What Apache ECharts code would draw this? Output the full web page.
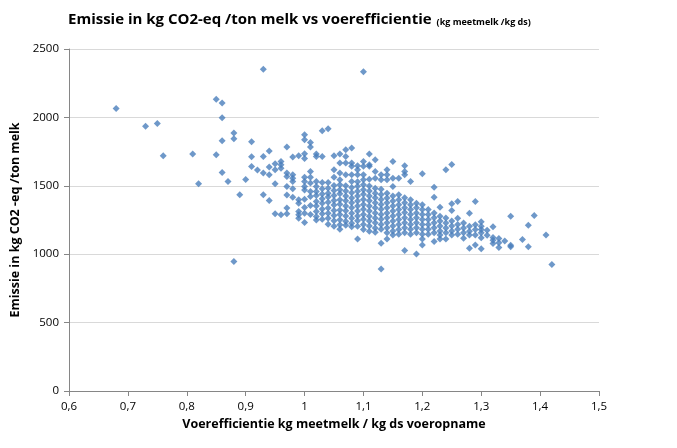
<!DOCTYPE html>
<html><head><meta charset="utf-8">
<script src="https://cdn.jsdelivr.net/npm/echarts@6/dist/echarts.min.js"></script>
<style>html,body{margin:0;padding:0;background:#fff}#c{width:677px;height:448px}</style>
</head><body><div id="c"></div>
<script>
// Voerefficientie (x) per column and the emission values (y) in that column
const kolomX = [0.68,0.73,0.75,0.76,0.81,0.82,0.85,0.86,0.87,0.88,0.89,0.90,0.91,0.92,0.93,0.94,0.95,0.96,0.97,0.98,0.99,
  1.00,1.01,1.02,1.03,1.04,1.05,1.06,1.07,1.08,1.09,1.10,1.11,1.12,1.13,1.14,1.15,1.16,1.17,1.18,1.19,
  1.20,1.21,1.22,1.23,1.24,1.25,1.26,1.27,1.28,1.29,1.30,1.31,1.32,1.33,1.34,1.35,1.37,1.38,1.39,1.41,1.42];
const kolomY = [
  [2065],[1935],[1955],[1720],[1732],[1515],[2132,1727],[2105,1998,1830,1598],[1532],[1886,1844,946],[1434],[1546],
  [1822,1712,1641],[1615],[2352,1715,1593,1434],[1754,1637,1580,1393],[1661,1617,1515,1295],[1678,1654,1629,1288],
  [1783,1593,1568,1495,1432,1337,1295],[1710,1580,1556,1532,1478,1417],[1720,1398,1373,1312,1288,1263],
  [1873,1837,1734,1700,1563,1532,1495,1470,1402,1341,1300,1232],
  [1817,1783,1605,1563,1520,1458,1422,1356,1290],
  [1732,1715,1532,1495,1458,1430,1385,1352,1312,1276,1250],
  [1903,1715,1524,1478,1440,1405,1372,1330,1295,1256],
  [1917,1524,1483,1446,1418,1380,1337,1300,1263,1219],
  [1720,1617,1563,1502,1466,1430,1392,1360,1320,1282,1244,1205],
  [1732,1666,1593,1544,1507,1471,1441,1398,1366,1324,1290,1252,1215,1183],
  [1764,1715,1666,1580,1500,1462,1425,1390,1352,1318,1280,1240,1212],
  [1776,1666,1642,1580,1532,1488,1450,1410,1376,1340,1300,1263,1227,1200],
  [1646,1617,1580,1530,1496,1460,1426,1388,1352,1315,1280,1244,1205,1112],
  [2334,1678,1642,1580,1544,1507,1471,1438,1400,1364,1328,1290,1255,1218,1180],
  [1732,1654,1642,1548,1498,1462,1425,1390,1352,1316,1278,1243,1207,1168],
  [1690,1605,1556,1483,1446,1412,1376,1340,1302,1265,1230,1192,1160],
  [1580,1544,1474,1436,1400,1364,1328,1290,1255,1218,1182,1080,892],
  [1617,1580,1544,1446,1410,1376,1340,1302,1266,1230,1193,1156,1112],
  [1678,1556,1495,1426,1388,1352,1316,1280,1243,1206,1170,1140],
  [1556,1434,1398,1362,1326,1290,1254,1218,1180,1146],
  [1646,1605,1580,1412,1376,1340,1304,1266,1230,1194,1157,1027],
  [1532,1398,1362,1326,1290,1254,1218,1182,1146],
  [1373,1340,1302,1266,1230,1194,1157,1002],
  [1588,1362,1326,1290,1254,1218,1182,1146,1112,1068],
  [1326,1290,1254,1218,1182,1146],
  [1490,1417,1302,1266,1230,1193,1156,1093],
  [1344,1278,1242,1206,1170,1140,1112],
  [1617,1265,1228,1192,1156,1112],
  [1656,1368,1319,1242,1206,1170,1140],
  [1385,1263,1218,1182,1146],
  [1228,1192,1156,1117],
  [1300,1205,1168,1140,1044],
  [1385,1215,1180,1140,1068],
  [1237,1205,1180,1156,1120,1039],
  [1175,1139],
  [1200,1122,1102,1078],
  [1115,1083,1049],
  [1097],
  [1278,1066,1054],
  [1107],
  [1212,1054],
  [1283],
  [1141],
  [924]
];
const xTicks = [0.6,0.7,0.8,0.9,1.0,1.1,1.2,1.3,1.4,1.5];
const yTicks = [0,500,1000,1500,2000,2500];

const punten = [];
kolomX.forEach((x,i)=>kolomY[i].forEach(y=>punten.push([x,y])));

const chart = echarts.init(document.getElementById('c'));
const font = 'Open Sans';
chart.setOption({
  animation:false,
  title:{
    text:'{a|Emissie in kg CO2-eq /ton melk vs voerefficientie} {b|(kg meetmelk /kg ds)}',
    left:63, top:6,
    textStyle:{rich:{
      a:{fontFamily:font,fontWeight:'bold',fontSize:15,color:'#000'},
      b:{fontFamily:font,fontWeight:'bold',fontSize:9,color:'#000',padding:[4,0,0,0]}
    }}
  },
  grid:{left:69,right:78,top:49,bottom:57},
  xAxis:{
    type:'value',min:xTicks[0],max:xTicks[xTicks.length-1],interval:0.1,
    name:'Voerefficientie kg meetmelk / kg ds voeropname',nameLocation:'middle',nameGap:26,
    nameTextStyle:{fontFamily:font,fontWeight:'bold',fontSize:12.5,color:'#000'},
    axisLine:{show:true,lineStyle:{color:'#868686'}},
    axisTick:{show:true,length:5,lineStyle:{color:'#868686'}},
    splitLine:{show:false},
    axisLabel:{fontFamily:font,fontSize:11.5,color:'#000',margin:10,
      formatter:v=>String(+v.toFixed(1)).replace('.',',')}
  },
  yAxis:{
    type:'value',min:yTicks[0],max:yTicks[yTicks.length-1],interval:500,
    name:'Emissie in kg CO2 -eq /ton melk',nameLocation:'middle',nameGap:41,
    nameTextStyle:{fontFamily:font,fontWeight:'bold',fontSize:12.5,color:'#000'},
    axisLine:{show:true,lineStyle:{color:'#868686'}},
    axisTick:{show:true,length:5,lineStyle:{color:'#868686'}},
    splitLine:{show:true,lineStyle:{color:'#d9d9d9'}},
    axisLabel:{fontFamily:font,fontSize:11.5,color:'#000',margin:10,formatter:v=>String(v)}
  },
  series:[{
    type:'scatter',data:punten,symbol:'diamond',symbolSize:7,
    itemStyle:{color:'#4a7ebb'}
  }]
});
</script></body></html>
